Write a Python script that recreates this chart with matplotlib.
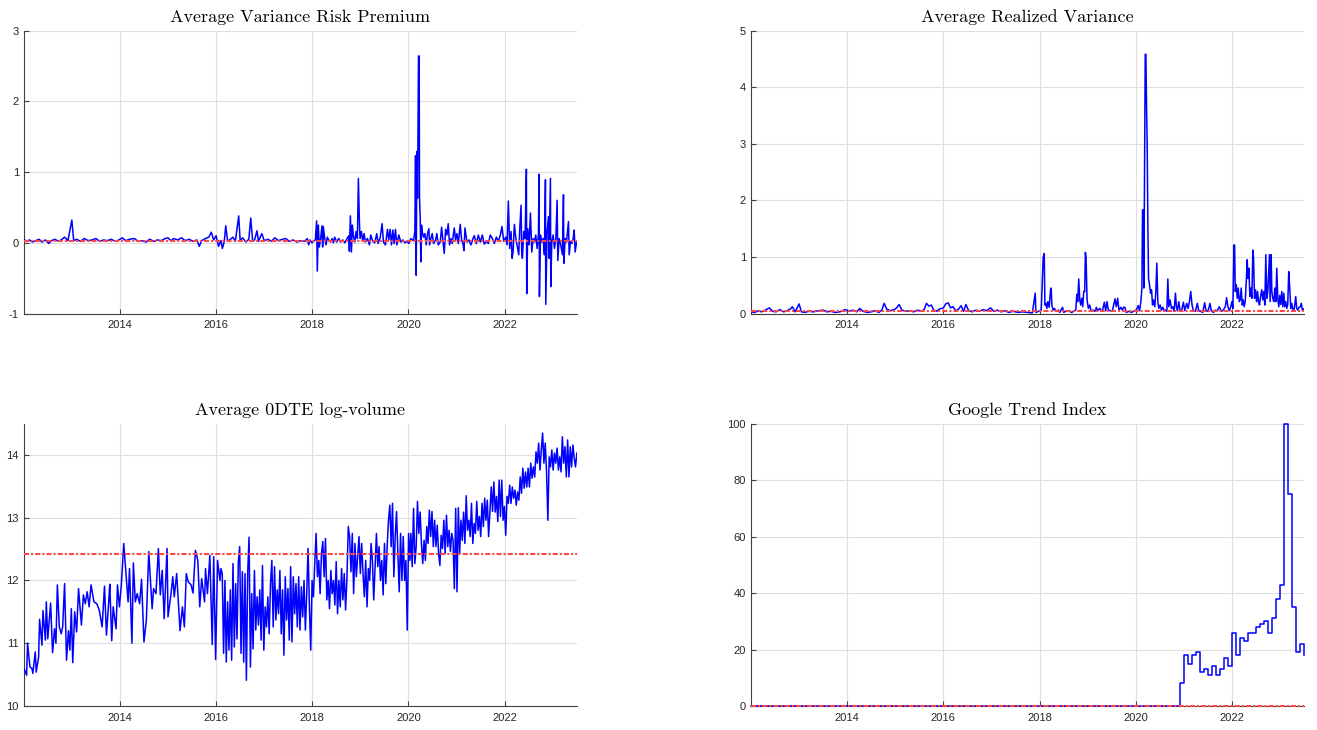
import numpy as np
import matplotlib
matplotlib.use('Agg')
import matplotlib.pyplot as plt

plt.rcParams['font.family'] = 'Liberation Sans'
plt.rcParams['axes.unicode_minus'] = False

# ---- Average Variance Risk Premium (decimal year, value) ----
vrp_year = [
    2012.00, 2012.06, 2012.12, 2012.18, 2012.25, 2012.32, 2012.38, 2012.45, 2012.52, 2012.58, 2012.65, 2012.72, 2012.78, 2012.85, 2012.92,
    2013.00, 2013.04, 2013.10, 2013.18, 2013.26, 2013.34, 2013.42, 2013.50, 2013.58, 2013.66, 2013.74, 2013.82, 2013.90, 2013.98,
    2014.05, 2014.12, 2014.20, 2014.30, 2014.38, 2014.46, 2014.54, 2014.62, 2014.70, 2014.78, 2014.86, 2014.94,
    2015.00, 2015.06, 2015.12, 2015.20, 2015.28, 2015.36, 2015.44, 2015.52, 2015.60, 2015.65, 2015.70, 2015.78, 2015.85, 2015.90, 2015.95,
    2016.00, 2016.05, 2016.10, 2016.13, 2016.17, 2016.20, 2016.24, 2016.30, 2016.35, 2016.40, 2016.47, 2016.50, 2016.55, 2016.62, 2016.68, 2016.72, 2016.76, 2016.80, 2016.85, 2016.88, 2016.95,
    2017.00, 2017.08, 2017.15, 2017.22, 2017.30, 2017.38, 2017.45, 2017.52, 2017.60, 2017.68, 2017.76, 2017.84, 2017.896, 2017.924, 2017.951, 2017.993,
    2018.021, 2018.063, 2018.090, 2018.104, 2018.125, 2018.146, 2018.174, 2018.201, 2018.215, 2018.229, 2018.257, 2018.285, 2018.313, 2018.340, 2018.382, 2018.410, 2018.438, 2018.465,
    2018.507, 2018.549, 2018.590, 2018.632, 2018.674, 2018.715, 2018.757, 2018.771, 2018.792, 2018.813, 2018.833, 2018.854, 2018.882, 2018.910, 2018.938, 2018.958, 2018.979, 2018.993,
    2019.021, 2019.049, 2019.076, 2019.104, 2019.146, 2019.188, 2019.215, 2019.257, 2019.299, 2019.340, 2019.368, 2019.410, 2019.451, 2019.479,
    2019.521, 2019.563, 2019.590, 2019.618, 2019.646, 2019.674, 2019.701, 2019.729, 2019.757, 2019.799, 2019.840, 2019.882, 2019.924, 2019.965,
    2020.007, 2020.049, 2020.104, 2020.132, 2020.146, 2020.160, 2020.174, 2020.188, 2020.208, 2020.222, 2020.229, 2020.243, 2020.257, 2020.271, 2020.285, 2020.313, 2020.340, 2020.368, 2020.396, 2020.424,
    2020.438, 2020.465, 2020.493, 2020.521, 2020.563, 2020.590, 2020.618, 2020.660, 2020.688, 2020.715, 2020.743, 2020.771, 2020.799, 2020.826, 2020.854, 2020.882, 2020.910, 2020.951, 2020.979,
    2021.007, 2021.035, 2021.076, 2021.104, 2021.132, 2021.153, 2021.174, 2021.215, 2021.257, 2021.299, 2021.340, 2021.368, 2021.410, 2021.451,
    2021.493, 2021.535, 2021.576, 2021.618, 2021.660, 2021.701, 2021.743, 2021.785, 2021.826, 2021.868, 2021.910, 2021.944, 2021.979,
    2022.021, 2022.049, 2022.076, 2022.104, 2022.132, 2022.153, 2022.174, 2022.201, 2022.229, 2022.257, 2022.292, 2022.313, 2022.340, 2022.354, 2022.368, 2022.396, 2022.424, 2022.451, 2022.458, 2022.479, 2022.507,
    2022.535, 2022.563, 2022.590, 2022.618, 2022.646, 2022.674, 2022.701, 2022.715, 2022.722, 2022.743, 2022.771, 2022.799, 2022.826, 2022.847, 2022.854, 2022.882, 2022.910, 2022.924, 2022.951, 2022.958, 2022.979,
    2023.007, 2023.035, 2023.063, 2023.090, 2023.104, 2023.132, 2023.160, 2023.201, 2023.222, 2023.229, 2023.257, 2023.285, 2023.326, 2023.340, 2023.368, 2023.396, 2023.424, 2023.444, 2023.465, 2023.493,
]
vrp = [
    0.05, 0.02, 0.04, 0.01, 0.03, 0.05, 0.01, 0.04, -0.01, 0.03, 0.05, 0.02, 0.04, 0.08, 0.03,
    0.32, 0.03, 0.05, 0.02, 0.06, 0.03, 0.04, 0.06, 0.02, 0.04, 0.03, 0.05, 0.02, 0.04,
    0.07, 0.03, 0.05, 0.06, 0.02, 0.03, 0.01, 0.05, 0.02, 0.04, 0.03, 0.06,
    0.07, 0.03, 0.06, 0.04, 0.07, 0.03, 0.05, 0.02, 0.04, -0.05, 0.03, 0.06, 0.08, 0.15, 0.04,
    0.10, -0.05, 0.03, -0.08, 0.02, 0.24, 0.02, 0.05, 0.08, 0.02, 0.38, 0.03, 0.07, 0.01, 0.05, 0.35, 0.02, 0.04, 0.17, 0.02, 0.13,
    0.03, 0.05, 0.02, 0.07, 0.03, 0.05, 0.06, 0.02, 0.04, 0.01, 0.03, 0.02, 0.06, -0.03, 0.04, 0.00,
    0.02, 0.04, 0.31, -0.40, 0.25, -0.06, 0.06, 0.24, -0.06, 0.23, 0.06, -0.03, 0.08, 0.04, 0.01, 0.06, 0.00, 0.08,
    0.01, 0.06, 0.01, 0.04, 0.00, 0.05, 0.10, -0.12, 0.38, -0.13, 0.25, 0.10, 0.01, 0.16, 0.06, 0.91, 0.30, 0.06,
    0.16, 0.02, 0.13, 0.01, 0.06, -0.03, 0.11, 0.02, 0.00, 0.13, -0.01, 0.07, 0.27, 0.01,
    -0.03, 0.19, 0.04, 0.19, -0.03, 0.18, -0.01, 0.19, -0.03, 0.11, 0.01, 0.04, 0.00, 0.02,
    -0.01, 0.06, 0.03, 0.16, 1.23, -0.46, 1.29, 0.63, 2.64, 2.64, 0.63, 0.37, -0.27, 0.25, 0.16, 0.08, 0.13, -0.03, 0.13, 0.20,
    -0.03, 0.06, 0.13, -0.01, 0.04, 0.13, -0.03, 0.01, 0.22, 0.04, -0.15, 0.19, 0.11, 0.27, -0.03, 0.06, -0.01, 0.21, 0.04,
    0.13, -0.01, 0.26, 0.04, -0.01, -0.11, 0.21, 0.01, 0.04, -0.03, 0.06, 0.10, -0.01, 0.11,
    0.01, 0.11, -0.02, 0.02, -0.01, 0.11, 0.06, -0.01, 0.08, 0.02, 0.11, 0.23, 0.02,
    0.08, -0.03, 0.59, -0.08, 0.16, -0.22, -0.13, 0.26, 0.08, -0.03, -0.17, 0.20, 0.53, -0.13, -0.22, 0.16, 0.06, 1.04, -0.72, 0.20, -0.03,
    0.42, -0.13, 0.06, 0.01, 0.11, -0.08, 0.11, 0.97, -0.76, 0.11, 0.01, 0.06, -0.17, 0.89, -0.87, 0.16, 0.37, -0.22, 0.91, -0.62, 0.01,
    0.11, -0.08, 0.06, 0.60, -0.25, 0.06, -0.01, -0.17, 0.68, -0.29, 0.06, 0.01, 0.30, -0.17, 0.02, -0.01, 0.06, 0.18, -0.13, 0.01,
]
vrp_mean = 0.03

# ---- Average Realized Variance ----
rv_year = [
    2012.00, 2012.08, 2012.15, 2012.22, 2012.30, 2012.38, 2012.45, 2012.52, 2012.60, 2012.68, 2012.75, 2012.82, 2012.86, 2012.92,
    2013.00, 2013.05, 2013.12, 2013.20, 2013.30, 2013.40, 2013.50, 2013.58, 2013.66, 2013.75, 2013.85, 2013.95,
    2014.05, 2014.12, 2014.20, 2014.26, 2014.33, 2014.42, 2014.50, 2014.58, 2014.66, 2014.72, 2014.77, 2014.82, 2014.90, 2014.98,
    2015.03, 2015.08, 2015.14, 2015.22, 2015.30, 2015.38, 2015.46, 2015.54, 2015.60, 2015.65, 2015.70, 2015.75, 2015.80, 2015.86, 2015.92,
    2016.00, 2016.05, 2016.10, 2016.15, 2016.20, 2016.26, 2016.32, 2016.37, 2016.42, 2016.47, 2016.52, 2016.60, 2016.68, 2016.75, 2016.83, 2016.90, 2016.98,
    2017.05, 2017.12, 2017.20, 2017.28, 2017.36, 2017.45, 2017.55, 2017.65, 2017.75, 2017.85, 2017.910, 2017.924, 2017.979,
    2018.035, 2018.076, 2018.097, 2018.111, 2018.131, 2018.152, 2018.173, 2018.200, 2018.228, 2018.242, 2018.256, 2018.283, 2018.311, 2018.338, 2018.394, 2018.421, 2018.477, 2018.504,
    2018.560, 2018.615, 2018.670, 2018.725, 2018.753, 2018.774, 2018.794, 2018.815, 2018.836, 2018.857, 2018.877, 2018.898, 2018.919, 2018.939, 2018.953, 2018.967, 2018.988,
    2019.015, 2019.043, 2019.071, 2019.112, 2019.154, 2019.181, 2019.209, 2019.250, 2019.278, 2019.306, 2019.347, 2019.375, 2019.402, 2019.430,
    2019.471, 2019.513, 2019.568, 2019.596, 2019.623, 2019.651, 2019.692, 2019.720, 2019.748, 2019.775, 2019.803, 2019.858, 2019.914, 2019.969,
    2020.010, 2020.052, 2020.079, 2020.107, 2020.128, 2020.141, 2020.155, 2020.169, 2020.183, 2020.197, 2020.211, 2020.225, 2020.238, 2020.252, 2020.266, 2020.287, 2020.307, 2020.328, 2020.349, 2020.369, 2020.397, 2020.418,
    2020.438, 2020.459, 2020.480, 2020.508, 2020.535, 2020.563, 2020.590, 2020.618, 2020.646, 2020.667, 2020.687, 2020.715, 2020.742, 2020.770, 2020.798, 2020.825, 2020.846, 2020.867, 2020.894, 2020.922, 2020.950, 2020.991,
    2021.019, 2021.060, 2021.088, 2021.116, 2021.143, 2021.171, 2021.198, 2021.240, 2021.281, 2021.309, 2021.350, 2021.392, 2021.433, 2021.461,
    2021.502, 2021.544, 2021.571, 2021.613, 2021.654, 2021.696, 2021.737, 2021.779, 2021.820, 2021.862, 2021.889, 2021.917, 2021.944, 2021.972,
    2022.000, 2022.020, 2022.041, 2022.055, 2022.069, 2022.090, 2022.110, 2022.131, 2022.152, 2022.172, 2022.193, 2022.214, 2022.235, 2022.255, 2022.276, 2022.297, 2022.317, 2022.331, 2022.352, 2022.373,
    2022.393, 2022.414, 2022.435, 2022.449, 2022.469, 2022.490, 2022.511, 2022.532, 2022.552, 2022.573, 2022.594, 2022.621, 2022.642, 2022.663, 2022.684, 2022.704, 2022.725, 2022.746, 2022.767, 2022.780,
    2022.794, 2022.815, 2022.829, 2022.849, 2022.870, 2022.891, 2022.912, 2022.932, 2022.953, 2022.974, 2022.995,
    2023.015, 2023.036, 2023.057, 2023.077, 2023.098, 2023.119, 2023.140, 2023.160, 2023.181, 2023.202, 2023.222,
    2023.243, 2023.271, 2023.298, 2023.326, 2023.347, 2023.367, 2023.395, 2023.423, 2023.443, 2023.464, 2023.492,
]
rv = [
    0.03, 0.02, 0.05, 0.03, 0.06, 0.10, 0.04, 0.03, 0.07, 0.03, 0.05, 0.08, 0.12, 0.03,
    0.17, 0.03, 0.02, 0.04, 0.03, 0.05, 0.06, 0.03, 0.04, 0.02, 0.03, 0.07,
    0.04, 0.06, 0.03, 0.09, 0.04, 0.02, 0.03, 0.05, 0.02, 0.06, 0.18, 0.08, 0.05, 0.07,
    0.10, 0.16, 0.06, 0.04, 0.05, 0.03, 0.06, 0.04, 0.07, 0.18, 0.13, 0.15, 0.06, 0.04, 0.08,
    0.10, 0.17, 0.19, 0.10, 0.12, 0.05, 0.08, 0.14, 0.04, 0.16, 0.06, 0.03, 0.06, 0.04, 0.07, 0.05, 0.10,
    0.04, 0.06, 0.03, 0.05, 0.02, 0.04, 0.02, 0.03, 0.02, 0.01, 0.36, 0.02, 0.04,
    0.06, 1.00, 1.06, 0.15, 0.18, 0.09, 0.21, 0.11, 0.42, 0.45, 0.15, 0.06, 0.09, 0.04, 0.06, 0.02, 0.11, 0.02,
    0.05, 0.04, 0.02, 0.05, 0.06, 0.34, 0.21, 0.61, 0.24, 0.15, 0.27, 0.12, 0.39, 0.39, 1.08, 0.98, 0.24,
    0.09, 0.15, 0.05, 0.06, 0.04, 0.11, 0.05, 0.09, 0.06, 0.04, 0.20, 0.05, 0.21, 0.06,
    0.05, 0.04, 0.26, 0.12, 0.27, 0.06, 0.11, 0.06, 0.11, 0.11, 0.02, 0.04, 0.02, 0.05,
    0.06, 0.14, 0.05, 0.21, 0.45, 1.83, 1.83, 0.45, 2.56, 4.58, 4.58, 3.62, 2.98, 1.56, 0.62, 0.51, 0.36, 0.42, 0.15, 0.24, 0.12, 0.39,
    0.89, 0.21, 0.09, 0.15, 0.06, 0.11, 0.05, 0.06, 0.04, 0.61, 0.12, 0.24, 0.09, 0.12, 0.04, 0.36, 0.12, 0.05, 0.21, 0.06, 0.04, 0.20,
    0.05, 0.18, 0.09, 0.21, 0.39, 0.15, 0.05, 0.04, 0.18, 0.05, 0.04, 0.02, 0.19, 0.05,
    0.04, 0.18, 0.05, 0.02, 0.06, 0.05, 0.12, 0.04, 0.06, 0.12, 0.28, 0.12, 0.05, 0.11,
    0.21, 0.09, 1.21, 1.21, 0.39, 0.51, 0.27, 0.45, 0.21, 0.24, 0.45, 0.15, 0.24, 0.12, 0.21, 0.56, 0.95, 0.62, 0.80, 0.30,
    0.45, 0.27, 1.12, 0.98, 0.27, 0.42, 0.21, 0.39, 0.21, 0.15, 0.30, 0.42, 0.24, 0.39, 0.15, 1.04, 0.27, 0.39, 0.80, 1.04,
    0.21, 1.04, 0.39, 0.27, 0.21, 0.45, 0.21, 0.80, 0.27, 0.12, 0.32,
    0.16, 0.39, 0.12, 0.36, 0.12, 0.21, 0.09, 0.16, 0.74, 0.45, 0.09,
    0.18, 0.06, 0.09, 0.30, 0.09, 0.06, 0.11, 0.12, 0.18, 0.06, 0.08,
]
rv_mean = 0.05

# ---- Average 0DTE log-volume ----
# 2012 - early 2016, read with dates
vol_year_a = [
    2012.00, 2012.06, 2012.08, 2012.13, 2012.17, 2012.19, 2012.24, 2012.26, 2012.31, 2012.33,
    2012.38, 2012.40, 2012.45, 2012.47, 2012.50, 2012.56, 2012.60, 2012.64, 2012.67, 2012.70,
    2012.74, 2012.78, 2012.81, 2012.85, 2012.89, 2012.93, 2012.96, 2012.99, 2013.02, 2013.06,
    2013.10, 2013.14, 2013.20, 2013.24, 2013.28, 2013.32, 2013.36, 2013.40, 2013.46, 2013.52,
    2013.57, 2013.63, 2013.68, 2013.72, 2013.77, 2013.79, 2013.83, 2013.86, 2013.92, 2013.95,
    2013.99, 2014.03, 2014.08, 2014.13, 2014.17, 2014.20, 2014.25, 2014.28, 2014.32, 2014.36,
    2014.41, 2014.45, 2014.50, 2014.55, 2014.60, 2014.67, 2014.70, 2014.75, 2014.80, 2014.84,
    2014.88, 2014.92, 2014.98, 2015.00, 2015.06, 2015.10, 2015.13, 2015.18, 2015.25, 2015.30,
    2015.34, 2015.38, 2015.42, 2015.48, 2015.52, 2015.57, 2015.62, 2015.66, 2015.70, 2015.76,
    2015.78, 2015.82, 2015.87, 2015.92, 2015.95, 2015.99, 2016.03, 2016.08,
]
vol_a = [
    10.61, 10.49, 11.00, 10.62, 10.60, 10.52, 10.86, 10.54, 10.78, 11.38,
    10.97, 11.52, 11.05, 11.66, 11.07, 11.64, 10.85, 11.23, 11.00, 11.93,
    11.26, 11.15, 11.26, 11.95, 10.73, 11.20, 10.89, 11.55, 10.69, 11.50,
    11.18, 11.87, 11.29, 11.77, 11.63, 11.82, 11.58, 11.93, 11.66, 11.63,
    11.53, 11.26, 11.91, 11.13, 11.69, 11.94, 11.04, 11.58, 11.23, 11.93,
    11.58, 11.93, 12.59, 12.06, 11.66, 12.19, 11.00, 12.28, 11.66, 11.79,
    11.63, 12.02, 11.02, 11.37, 12.46, 11.55, 11.87, 11.79, 12.51, 11.77,
    12.16, 11.39, 12.51, 11.42, 11.77, 12.06, 11.74, 12.11, 11.20, 11.58,
    11.26, 12.11, 11.98, 11.93, 11.80, 12.48, 12.32, 11.58, 12.03, 11.66,
    12.19, 11.79, 12.40, 10.98, 12.38, 10.74, 12.32, 12.00,
]
# 2016 - 2020, roughly evenly spaced readings
vol_b_span = (2016.10, 2020.03)
vol_b = [
    12.19, 12.11, 10.84, 12.00, 10.70, 11.66, 10.89, 11.85, 10.73, 12.27,
    10.94, 11.95, 11.07, 12.30, 12.54, 10.84, 12.14, 10.70, 12.11, 10.41,
    12.14, 12.69, 10.62, 11.79, 10.91, 12.16, 11.21, 11.74, 11.29, 11.85,
    11.05, 12.24, 10.89, 11.58, 11.26, 11.74, 11.15, 11.95, 12.32, 11.26,
    12.22, 11.37, 11.85, 11.47, 12.16, 11.15, 11.85, 10.81, 12.06, 11.37,
    11.87, 11.05, 12.22, 11.02, 12.06, 11.47, 11.95, 11.26, 12.06, 11.21,
    11.90, 11.42, 12.00, 11.21, 11.79, 12.51, 11.58, 10.89, 12.00, 11.74,
    12.27, 12.75, 12.06, 12.32, 11.79, 12.43, 12.62, 12.06, 12.67, 11.69,
    12.00, 11.55, 12.16, 11.79, 12.00, 11.61, 12.30, 11.47, 12.00, 11.58,
    12.19, 11.69, 12.11, 11.53, 12.03, 12.86, 12.70, 12.14, 12.75, 11.79,
    12.59, 12.06, 12.38, 12.70, 12.11, 12.59, 12.11, 11.74, 12.32, 11.58,
    12.19, 12.00, 12.59, 12.32, 11.69, 12.22, 12.75, 12.22, 12.54, 12.00,
    12.32, 11.77, 12.59, 11.95, 12.54, 12.96, 13.20, 12.54, 13.23, 12.06,
    12.70, 13.10, 12.43, 11.82, 12.75, 12.00, 12.70, 12.00, 12.32, 11.21,
    12.75, 12.32,
]
# 2020 - mid 2023
vol_c_span = (2020.05, 2023.50)
vol_c = [
    12.75, 12.22, 13.15, 12.27, 12.54, 13.26, 12.75, 13.09, 12.59, 12.27,
    12.64, 12.32, 12.86, 12.59, 13.12, 12.70, 13.10, 12.54, 12.96, 12.54,
    12.88, 12.43, 12.24, 12.72, 12.51, 12.96, 12.43, 13.04, 12.54, 12.80,
    12.46, 12.75, 12.64, 11.87, 13.15, 11.82, 13.16, 12.43, 12.96, 12.64,
    13.09, 12.59, 13.35, 12.80, 12.96, 12.70, 13.23, 12.59, 12.91, 12.75,
    13.26, 12.80, 13.02, 12.70, 13.23, 12.86, 13.31, 12.96, 13.28, 12.70,
    13.09, 13.49, 13.10, 13.57, 13.09, 13.34, 12.94, 13.60, 13.02, 13.60,
    12.96, 13.18, 12.72, 13.34, 13.23, 13.52, 13.23, 13.49, 13.31, 13.44,
    13.20, 13.41, 13.28, 13.65, 13.39, 13.79, 13.47, 13.73, 13.49, 13.79,
    13.49, 13.87, 13.63, 13.81, 13.65, 14.05, 13.87, 14.19, 13.76, 14.08,
    14.35, 13.87, 14.19, 13.73, 12.96, 13.97, 13.81, 14.08, 13.76, 14.03,
    13.87, 14.11, 13.76, 13.97, 13.73, 14.29, 13.87, 14.13, 13.65, 14.24,
    13.65, 14.13, 13.81, 14.16, 13.95, 13.81, 14.03,
]
vol_mean = 12.43

# ---- Google Trend Index, monthly from Jan 2012 ----
google_trend = [
    0, 0, 0, 0, 0, 0, 0, 0, 0, 0, 0, 0,          # 2012
    0, 0, 0, 0, 0, 0, 0, 0, 0, 0, 0, 0,          # 2013
    0, 0, 0, 0, 0, 0, 0, 0, 0, 0, 0, 0,          # 2014
    0, 0, 0, 0, 0, 0, 0, 0, 0, 0, 0, 0,          # 2015
    0, 0, 0, 0, 0, 0, 0, 0, 0, 0, 0, 0,          # 2016
    0, 0, 0, 0, 0, 0, 0, 0, 0, 0, 0, 0,          # 2017
    0, 0, 0, 0, 0, 0, 0, 0, 0, 0, 0, 0,          # 2018
    0, 0, 0, 0, 0, 0, 0, 0, 0, 0, 0, 0,          # 2019
    0, 0, 0, 0, 0, 0, 0, 0, 0, 0, 0, 8,          # 2020
    18, 15, 18, 19, 12, 13, 11, 14, 11, 13, 17, 14,   # 2021
    26, 18, 24, 23, 26, 26, 28, 29, 30, 26, 31, 38,   # 2022
    43, 100, 75, 35, 19, 22, 18,                      # 2023
]
gt_mean = 0.0

# 시간축 만들기
vol_year = np.concatenate([vol_year_a,
                           np.linspace(vol_b_span[0], vol_b_span[1], len(vol_b)),
                           np.linspace(vol_c_span[0], vol_c_span[1], len(vol_c))])
vol = np.concatenate([vol_a, vol_b, vol_c])
gt_year = 2012 + np.arange(len(google_trend)) / 12


def style_ax(ax, title, ylim, yticks):
    ax.set_xlim(2012.0, 2023.5)
    ax.set_ylim(*ylim)
    ax.set_xticks([2014, 2016, 2018, 2020, 2022])
    ax.set_yticks(yticks)
    ax.grid(True, color='#dfdfdf', linewidth=0.8)
    ax.set_axisbelow(True)
    for s in ['top', 'right']:
        ax.spines[s].set_visible(False)
    for s in ['left', 'bottom']:
        ax.spines[s].set_color('#404040')
        ax.spines[s].set_linewidth(0.8)
    ax.tick_params(direction='in', length=3.5, width=0.8, color='#404040',
                   labelsize=8, labelcolor='#262626')
    ax.tick_params(axis='x', pad=5)
    ax.tick_params(axis='y', pad=3.5)
    ax.set_title(title, fontfamily='cmr10', fontsize=13, pad=6)


def mean_line(ax, m):
    # 평균선: 빨간 일점쇄선
    ax.axhline(m, color='#ff4646', linewidth=1.5, dashes=(2.4, 1.0, 1.0, 1.0),
               zorder=3, clip_on=False)


fig = plt.figure(figsize=(13.17, 7.30), dpi=100)

ax1 = fig.add_axes([0.018, 0.5705, 0.420, 0.3877])
ax1.plot(vrp_year, vrp, color='b', linewidth=1.1, zorder=2.7)
mean_line(ax1, vrp_mean)
style_ax(ax1, 'Average Variance Risk Premium', (-1, 3), [-1, 0, 1, 2, 3])

ax2 = fig.add_axes([0.5702, 0.5705, 0.420, 0.3877])
ax2.plot(rv_year, rv, color='b', linewidth=1.1, zorder=2.7)
mean_line(ax2, rv_mean)
style_ax(ax2, 'Average Realized Variance', (0, 5), [0, 1, 2, 3, 4, 5])

ax3 = fig.add_axes([0.018, 0.0329, 0.420, 0.3868])
ax3.plot(vol_year, vol, color='b', linewidth=1.1, zorder=2.7)
mean_line(ax3, vol_mean)
style_ax(ax3, 'Average 0DTE log-volume', (10, 14.5), [10, 11, 12, 13, 14])

ax4 = fig.add_axes([0.5702, 0.0329, 0.420, 0.3868])
ax4.step(gt_year, google_trend, where='post', color='b', linewidth=1.1, zorder=2.7, clip_on=False)
mean_line(ax4, gt_mean)
style_ax(ax4, 'Google Trend Index', (0, 100), [0, 20, 40, 60, 80, 100])

fig.savefig('out.png', dpi=100)
